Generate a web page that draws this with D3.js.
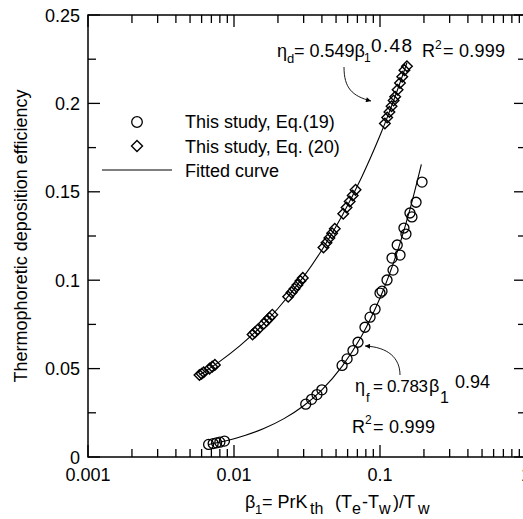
<!DOCTYPE html>
<html><head><meta charset="utf-8">
<script src="https://cdn.jsdelivr.net/npm/d3@7"></script>
<style>
html,body{margin:0;padding:0;background:#fff;}
text{font-family:"Liberation Sans",Arial,sans-serif;fill:#000;}
</style></head>
<body><svg id="c" width="523" height="519"></svg>
<script>
// ---- data ----
const xTickValues = [0.001, 0.01, 0.1, 1];
const xTickLabels = ["0.001", "0.01", "0.1", "1"];
const yTickValues = [0, 0.05, 0.1, 0.15, 0.2, 0.25];
const yTickLabels = ["0", "0.05", "0.1", "0.15", "0.2", "0.25"];
const yMinorValues = [0.025, 0.075, 0.125, 0.175, 0.225];

// Eq.(20) diamonds
const eq20Beta = [0.0058,0.0060,0.0062,0.0068,0.0071,0.0074,
  0.0134,0.0139,0.0145,0.0160,0.0167,0.0175,0.0183,
  0.0235,0.0248,0.0260,0.0272,0.0285,0.0296,
  0.041,0.043,0.045,0.047,0.049,
  0.056,0.059,0.062,0.065,0.068,
  0.108,0.112,0.116,0.120,0.124,
  0.127,0.132,0.137,0.142,0.147,0.153];
const eq20Eta = [0.0464,0.0471,0.0479,0.0500,0.0511,0.0521,
  0.0693,0.0705,0.0720,0.0754,0.0770,0.0787,0.0805,
  0.0907,0.0931,0.0952,0.0973,0.0995,0.1013,
  0.1185,0.1212,0.1239,0.1265,0.1291,
  0.1376,0.1411,0.1445,0.1479,0.1511,
  0.1886,0.1920,0.1952,0.1984,0.2016,
  0.2038,0.2077,0.2115,0.2151,0.2188,0.2210];

// Eq.(19) circles
const eq19Beta = [0.0067,0.0072,0.0076,0.0080,0.0086,
  0.031,0.034,0.037,0.040,
  0.055,0.0595,0.0653,0.0707,
  0.0789,0.0855,0.0925,0.100,0.1032,0.1117,0.1228,0.1209,0.1371,0.1312,0.1506,0.1459,0.1604,0.1655,0.1766,0.194];
const eq19Eta = [0.0071,0.0076,0.0080,0.0084,0.0090,
  0.0299,0.0326,0.0353,0.0380,
  0.0518,0.0555,0.0602,0.0649,
  0.0734,0.0791,0.0836,0.0927,0.0938,0.1001,0.1057,0.1125,0.1142,0.1199,0.1261,0.1295,0.1380,0.1358,0.1441,0.1555];

// fitted curves
const fitDBeta = [0.0058,0.008,0.011,0.015,0.02,0.03,0.04,0.055,0.075,0.1,0.125,0.153];
const fitDEta  = [0.0464,0.0541,0.0630,0.0731,0.0840,0.1020,0.1171,0.1365,0.1584,0.1818,0.2024,0.2230];
const fitFBeta = [0.0067,0.009,0.012,0.016,0.022,0.03,0.04,0.055,0.075,0.1,0.13,0.16,0.192];
const fitFEta  = [0.0071,0.0093,0.0123,0.0161,0.0217,0.0290,0.0380,0.0513,0.0686,0.0899,0.1150,0.1398,0.1655];

// ---- drawing ----
const svg = d3.select("#c");
const L = 88, R = 526, T = 15, B = 457;
const x = d3.scaleLog().domain([0.001, 1]).range([L, R]);
const y = d3.scaleLinear().domain([0, 0.25]).range([B, T]);

const defs = svg.append("defs");
defs.append("marker").attr("id","ah").attr("viewBox","0 0 10 10").attr("refX",10).attr("refY",5)
  .attr("markerWidth",7).attr("markerHeight",5).attr("orient","auto").attr("markerUnits","userSpaceOnUse")
  .append("path").attr("d","M0,0L10,5L0,10z").attr("fill","#000");

const clip = defs.append("clipPath").attr("id","pc");
clip.append("rect").attr("x",L).attr("y",T).attr("width",R-L).attr("height",B-T);

// fitted curves
const line = d3.line().x(d=>x(d[0])).y(d=>y(d[1])).curve(d3.curveCatmullRom);
const g = svg.append("g").attr("clip-path","url(#pc)");
g.append("path").datum(fitDBeta.map((b,i)=>[b,fitDEta[i]])).attr("d",line)
  .attr("fill","none").attr("stroke","#000").attr("stroke-width",1.1);
g.append("path").datum(fitFBeta.map((b,i)=>[b,fitFEta[i]])).attr("d",line)
  .attr("fill","none").attr("stroke","#000").attr("stroke-width",1.1);

// markers
g.selectAll(".dm").data(eq20Beta.map((b,i)=>[b,eq20Eta[i]])).enter().append("path")
  .attr("d",d=>{const cx=x(d[0]),cy=y(d[1]),r=5.3;return `M${cx},${cy-r}L${cx+r},${cy}L${cx},${cy+r}L${cx-r},${cy}Z`;})
  .attr("fill","none").attr("stroke","#000").attr("stroke-width",1.4);
g.selectAll(".ci").data(eq19Beta.map((b,i)=>[b,eq19Eta[i]])).enter().append("circle")
  .attr("cx",d=>x(d[0])).attr("cy",d=>y(d[1])).attr("r",5)
  .attr("fill","none").attr("stroke","#000").attr("stroke-width",1.3);

// axes frame
svg.append("rect").attr("x",L).attr("y",T).attr("width",R-L).attr("height",B-T)
  .attr("fill","none").attr("stroke","#000").attr("stroke-width",1.5);

// ticks
const ax = svg.append("g").attr("stroke","#000").attr("stroke-width",1.3);
const minorX = x.ticks().filter(v => !xTickValues.some(t => Math.abs(t - v) < 1e-12));
xTickValues.forEach(v=>{
  ax.append("line").attr("x1",x(v)).attr("x2",x(v)).attr("y1",B).attr("y2",B-12);
  ax.append("line").attr("x1",x(v)).attr("x2",x(v)).attr("y1",T).attr("y2",T+12);
});
minorX.forEach(v=>{
  ax.append("line").attr("x1",x(v)).attr("x2",x(v)).attr("y1",B).attr("y2",B-8);
  ax.append("line").attr("x1",x(v)).attr("x2",x(v)).attr("y1",T).attr("y2",T+8);
});
yTickValues.forEach(v=>{
  ax.append("line").attr("x1",L).attr("x2",L+12).attr("y1",y(v)).attr("y2",y(v));
  ax.append("line").attr("x1",R).attr("x2",R-12).attr("y1",y(v)).attr("y2",y(v));
});
yMinorValues.forEach(v=>{
  ax.append("line").attr("x1",L).attr("x2",L+8).attr("y1",y(v)).attr("y2",y(v));
  ax.append("line").attr("x1",R).attr("x2",R-8).attr("y1",y(v)).attr("y2",y(v));
});

// tick labels
xTickValues.forEach((v,i)=>{
  svg.append("text").attr("x",x(v)).attr("y",481).attr("text-anchor","middle")
    .attr("font-size",18).text(xTickLabels[i]);
});
yTickValues.forEach((v,i)=>{
  svg.append("text").attr("x",80).attr("y",y(v)+6.5).attr("text-anchor","end")
    .attr("font-size",18).text(yTickLabels[i]);
});

// y axis title
svg.append("text").attr("transform","translate(27,236) rotate(-90)").attr("text-anchor","middle")
  .attr("font-size",18).text("Thermophoretic deposition efficiency");

// helper for placed text pieces
function put(str, px, py, size, len){
  const t = svg.append("text").attr("x",px).attr("y",py).attr("font-size",size).text(str);
  if(len) t.attr("textLength",len).attr("lengthAdjust","spacing");
  return t;
}

// x axis title: β1= PrKth (Te-Tw)/Tw
put("β",245,508,18);
put("1",255,514,13);
put("= PrK",262,508,18);
put("th",310,514,16);
put("(T",335,508,18);
put("e",352,514,16);
put("-T",362,508,18);
put("w",379,514,16);
put(")/T",393,508,18);
put("w",418,514,16);

// legend
svg.append("circle").attr("cx",137).attr("cy",122).attr("r",5.3).attr("fill","none").attr("stroke","#000").attr("stroke-width",1.3);
svg.append("path").attr("d","M137,140.5L142.5,146L137,151.5L131.5,146Z").attr("fill","none").attr("stroke","#000").attr("stroke-width",1.4);
svg.append("line").attr("x1",102).attr("x2",172).attr("y1",170).attr("y2",170).attr("stroke","#000").attr("stroke-width",1.1);
put("This study, Eq.(19)",185,128,18);
put("This study, Eq. (20)",185,153,18);
put("Fitted curve",185,177,18);

// top annotation
put("η",277,57,18);
put("d",287,63,13);
put("= 0.549β",294,57,18);
put("1",364,62,12);
put("0.48",371,52,19,41);
put("R",422,57,18);
put("2",435,49,12);
put("= 0.999",443,57,18,62);

// bottom annotation
put("η",355,392,18);
put("f",366,402,13);
put("= 0.783",373,392,17,55);
put("β",429,392,18);
put("1",440,403,16);
put("0.94",455,388,18);
put("R",352,433,18);
put("2",365,424,12);
put("= 0.999",373,433,18,62);

// arrows
svg.append("path").attr("d","M344,67 C344,88 352,96 371,101")
  .attr("fill","none").attr("stroke","#000").attr("stroke-width",0.9).attr("marker-end","url(#ah)");
svg.append("path").attr("d","M400,375 C400,358 388,347 365,346")
  .attr("fill","none").attr("stroke","#000").attr("stroke-width",0.9).attr("marker-end","url(#ah)");
</script></body></html>
